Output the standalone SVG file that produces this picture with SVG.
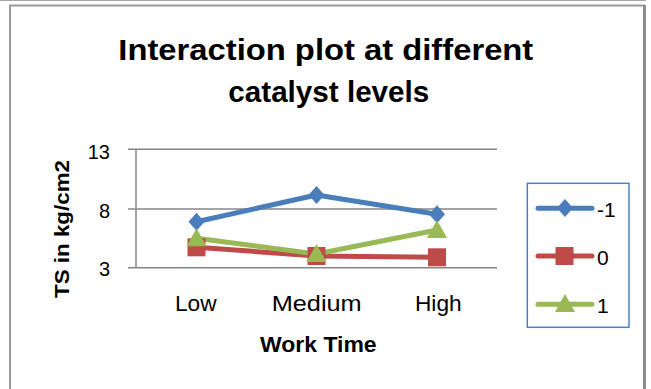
<svg xmlns="http://www.w3.org/2000/svg" width="651" height="389" viewBox="0 0 651 389">
<defs>
<style>
.t{font-family:"Liberation Sans",Arial,sans-serif;fill:#000}
.b{font-weight:bold}
.grid{stroke:#868686;stroke-width:1.5;fill:none}
.s1{stroke:#4A7EBB;stroke-width:5;fill:none;stroke-linejoin:round;stroke-linecap:round}
.s2{stroke:#BE4B48;stroke-width:5;fill:none;stroke-linejoin:round;stroke-linecap:round}
.s3{stroke:#98B954;stroke-width:5;fill:none;stroke-linejoin:round;stroke-linecap:round}
.f1{fill:#4A7EBB}
.f2{fill:#BE4B48}
.f3{fill:#98B954}
</style>
<path id="dia" d="M0,-9 L8,0 L0,9 L-8,0 Z"/>
<rect id="sq" x="-9" y="-9" width="18" height="18"/>
<path id="tri" d="M0,-10 L10,8 L-10,8 Z"/>
</defs>
<rect width="651" height="389" fill="#fff"/>
<g id="frame">
<line x1="0" y1="0.5" x2="646" y2="0.5" stroke="#a6a6a6" stroke-width="1"/>
<path d="M10,395 V5.5 H644.5" stroke="#9a9a9a" stroke-width="2" fill="none"/>
<line x1="644.5" y1="5" x2="644.5" y2="395" stroke="#8c8c8c" stroke-width="3"/>
</g>
<g id="title">
<text class="t b" x="325.8" y="59.5" font-size="29.5" text-anchor="middle" textLength="415" lengthAdjust="spacingAndGlyphs">Interaction plot at different</text>
<text class="t b" x="328.8" y="101.8" font-size="29.5" text-anchor="middle" textLength="201" lengthAdjust="spacingAndGlyphs">catalyst levels</text>
</g>
<g id="axes">
<line class="grid" x1="128" y1="149.3" x2="497" y2="149.3"/>
<line class="grid" x1="128" y1="209" x2="497" y2="209"/>
<line class="grid" x1="128" y1="267.7" x2="497" y2="267.7"/>
<line class="grid" x1="136" y1="149.3" x2="136" y2="267.7"/>
<text class="t" x="110" y="158.5" font-size="20" text-anchor="end">13</text>
<text class="t" x="110" y="217.9" font-size="20" text-anchor="end">8</text>
<text class="t" x="110" y="276.3" font-size="20" text-anchor="end">3</text>
<text class="t" x="195.8" y="311" font-size="21.5" text-anchor="middle" textLength="41.7" lengthAdjust="spacingAndGlyphs">Low</text>
<text class="t" x="316.7" y="311" font-size="21.5" text-anchor="middle" textLength="90" lengthAdjust="spacingAndGlyphs">Medium</text>
<text class="t" x="438.3" y="311" font-size="21.5" text-anchor="middle" textLength="46.7" lengthAdjust="spacingAndGlyphs">High</text>
<text class="t b" x="318.3" y="352" font-size="21.5" text-anchor="middle" textLength="116.7" lengthAdjust="spacingAndGlyphs">Work Time</text>
<text class="t b" transform="translate(69,229) rotate(-90)" x="0" y="0" font-size="21" text-anchor="middle" textLength="138" lengthAdjust="spacingAndGlyphs">TS in kg/cm2</text>
</g>
<g id="connectors">
<polyline class="s1" points="196.5,221.7 316.5,195 437,214.3"/>
<polyline class="s2" points="196.5,247.3 316.5,256 437,257.3"/>
<polyline class="s3" points="196.5,238.3 316.5,254 437,230"/>
</g>
<g id="series-neg1">
<use href="#dia" class="f1" x="196.5" y="221.7"/>
<use href="#dia" class="f1" x="316.5" y="195"/>
<use href="#dia" class="f1" x="437" y="214.3"/>
</g>
<g id="series-0">
<use href="#sq" class="f2" x="196.5" y="247.3"/>
<use href="#sq" class="f2" x="316.5" y="256"/>
<use href="#sq" class="f2" x="437" y="257.3"/>
</g>
<g id="series-1">
<use href="#tri" class="f3" x="196.5" y="238.3"/>
<use href="#tri" class="f3" x="316.5" y="254"/>
<use href="#tri" class="f3" x="437" y="230"/>
</g>
<g id="legend">
<rect x="527.3" y="183.3" width="101.7" height="144" fill="#fff" stroke="#4F81BD" stroke-width="1.5"/>
<line class="s1" x1="538" y1="208.3" x2="592" y2="208.3"/>
<use href="#dia" class="f1" x="565" y="208"/>
<text class="t" x="597" y="217" font-size="21">-1</text>
<line class="s2" x1="538" y1="256" x2="592" y2="256"/>
<use href="#sq" class="f2" x="564.5" y="256"/>
<text class="t" x="597" y="264.5" font-size="21">0</text>
<line class="s3" x1="538" y1="304.3" x2="592" y2="304.3"/>
<use href="#tri" class="f3" x="565" y="304"/>
<text class="t" x="597" y="313" font-size="21">1</text>
</g>
</svg>
